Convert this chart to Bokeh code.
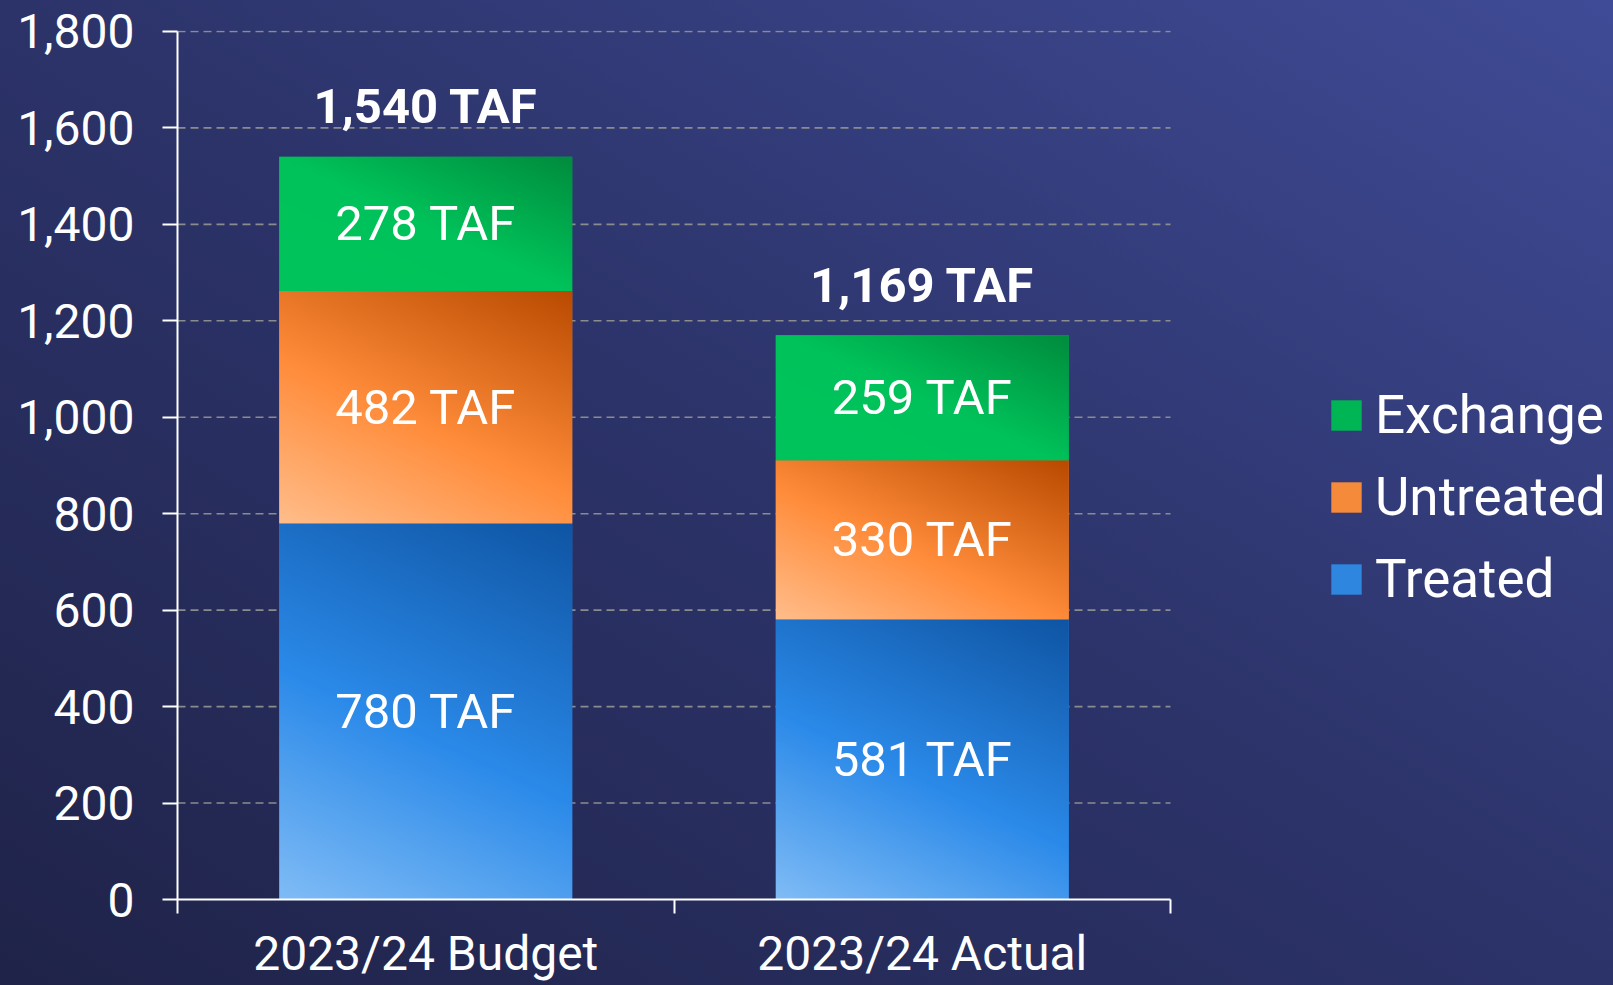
import numpy as np
from bokeh.plotting import figure
from bokeh.models import (Range1d, FixedTicker, NumeralTickFormatter, Legend,
                          LegendItem, ColumnDataSource)
from bokeh.core.properties import value
from bokeh.embed import file_html
from bokeh.resources import INLINE

# ---------------- data ----------------
categories = ["2023/24 Budget", "2023/24 Actual"]
series_names = ["Treated", "Untreated", "Exchange"]
treated = [780, 581]
untreated = [482, 330]
exchange = [278, 259]
total_labels = ["1,540 TAF", "1,169 TAF"]
y_ticks = [0, 200, 400, 600, 800, 1000, 1200, 1400, 1600, 1800]

# ---------------- styles ----------------
FONT = "Roboto"
bar_width = 0.59
PX_PER_CAT = 496.5      # approx. screen width of one category
PX_PER_UNIT = 0.4822    # approx. screen px per y unit
gradients = {
    "Treated": [(0.0, "#80bcf6"), (0.45, "#2b8ae9"), (1.0, "#0f55a4")],
    "Untreated": [(0.0, "#ffbd8a"), (0.45, "#ff8c3a"), (1.0, "#b94a00")],
    "Exchange": [(0.0, "#00c55c"), (0.5, "#00c25a"), (1.0, "#008c3d")],
}
solid = {"Treated": "#2f86df", "Untreated": "#f58a3a", "Exchange": "#00b553"}
THETA = np.radians(25)  # gradient direction, measured from vertical


def hex_rgb(h):
    h = h.lstrip("#")
    return [int(h[i:i + 2], 16) for i in (0, 2, 4)]


def gradient_image(stops, wpx, hpx, nx, ny):
    u = np.linspace(0, 1, nx)
    v = np.linspace(0, 1, ny)
    U, V = np.meshgrid(u, v)
    s, c = np.sin(THETA), np.cos(THETA)
    t = (U * wpx * s + V * hpx * c) / (wpx * s + hpx * c)
    pos = [st[0] for st in stops]
    cols = np.array([hex_rgb(st[1]) for st in stops])
    img = np.empty((ny, nx), dtype=np.uint32)
    view = img.view(dtype=np.uint8).reshape((ny, nx, 4))
    for k in range(3):
        view[:, :, k] = np.interp(t, pos, cols[:, k]).astype(np.uint8)
    view[:, :, 3] = 255
    return img


n_cat = len(categories)
xs = [i + 0.5 for i in range(n_cat)]
stacks = {"Treated": treated, "Untreated": untreated, "Exchange": exchange}

p = figure(width=1613, height=985, output_backend="svg", toolbar_location=None,
           x_range=Range1d(0, 2.8922), y_range=Range1d(0, 1802),
           min_border_left=177, min_border_right=0, min_border_top=30,
           min_border_bottom=86)
p.background_fill_color = None
p.border_fill_color = None
p.outline_line_color = None
p.styles = {"background": "linear-gradient(to top right, #1f2349 0%, #2c3369 50%, #3f4b96 100%)"}

# grid (drawn as dashed segments, limited to the category area)
p.xgrid.visible = False
p.ygrid.visible = False
grid_y = [t for t in y_ticks if t > 0]
p.segment(x0=[0] * len(grid_y), x1=[n_cat] * len(grid_y), y0=grid_y, y1=grid_y,
          line_color="#8a8c8e", line_width=1.6, line_dash="8 5")

# bars
bottoms = [0.0] * n_cat
legend_items = {}
for name in series_names:
    vals = stacks[name]
    tops = [b + v for b, v in zip(bottoms, vals)]
    src = ColumnDataSource(dict(x=xs, bottom=bottoms, top=tops, val=vals,
                                mid=[(b + t) / 2 for b, t in zip(bottoms, tops)],
                                lab=[f"{v} TAF" for v in vals]))
    r = p.vbar(x="x", bottom="bottom", top="top", width=bar_width, source=src,
               fill_color=solid[name], line_color=None)
    legend_items[name] = r
    wpx = bar_width * PX_PER_CAT
    imgs = [gradient_image(gradients[name], wpx, v * PX_PER_UNIT, 150,
                           max(8, int(v / 4))) for v in vals]
    p.image_rgba(image=imgs, x=[x - bar_width / 2 for x in xs], y=bottoms,
                 dw=[bar_width] * n_cat, dh=vals)
    p.text(x="x", y="mid", text="lab", source=src, text_align="center",
           text_baseline="middle", text_color="white", text_font=value(FONT),
           text_font_size="49px")
    bottoms = tops

# totals
p.text(x=xs, y=bottoms, text=total_labels, text_align="center",
       text_baseline="alphabetic", y_offset=-50, text_color="white",
       text_font=value(FONT), text_font_size="49px", text_font_style="bold")

# axes
ya = p.yaxis[0]
ya.ticker = FixedTicker(ticks=y_ticks)
ya.formatter = NumeralTickFormatter(format="0,0")
ya.bounds = (0, 1800)
ya.axis_line_color = "white"
ya.axis_line_width = 2
ya.major_tick_line_color = "white"
ya.major_tick_line_width = 2
ya.major_tick_out = 15
ya.major_tick_in = 0
ya.minor_tick_line_color = None
ya.major_label_text_color = "white"
ya.major_label_text_font = FONT
ya.major_label_text_font_size = "48px"
ya.major_label_standoff = 28

xa = p.xaxis[0]
xa.ticker = FixedTicker(ticks=xs, minor_ticks=list(range(n_cat + 1)))
xa.major_label_overrides = {x: c for x, c in zip(xs, categories)}
xa.bounds = (0, n_cat)
xa.axis_line_color = "white"
xa.axis_line_width = 2
xa.major_tick_line_color = None
xa.minor_tick_line_color = "white"
xa.minor_tick_line_width = 2
xa.minor_tick_out = 14
xa.minor_tick_in = 0
xa.major_label_text_color = "white"
xa.major_label_text_font = FONT
xa.major_label_text_font_size = "48px"
xa.major_label_standoff = 11

# legend
legend = Legend(items=[LegendItem(label=n, renderers=[legend_items[n]])
                       for n in ["Exchange", "Untreated", "Treated"]],
                location=(1150, 289), orientation="vertical",
                glyph_width=38, glyph_height=38, label_standoff=10,
                label_text_font=FONT, label_text_font_size="53px",
                label_text_color="white", spacing=20, padding=0, margin=0,
                background_fill_alpha=0, border_line_alpha=0)
p.add_layout(legend, "center")

open("out.html", "w").write(file_html(p, INLINE))
